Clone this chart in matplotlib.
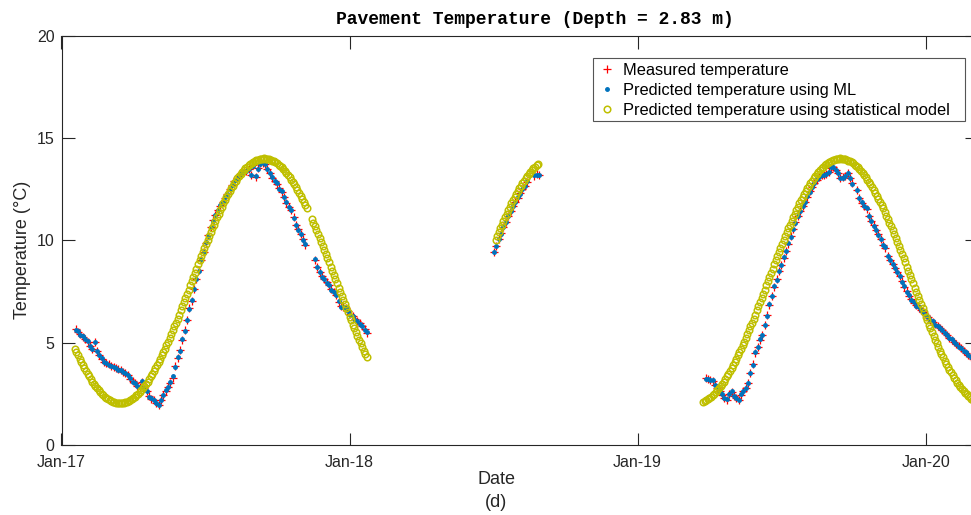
import numpy as np
import pandas as pd
import matplotlib
matplotlib.use("Agg")
import matplotlib.pyplot as plt
import matplotlib.dates as mdates
from matplotlib.lines import Line2D
from matplotlib.patches import Rectangle

plt.rcParams['font.family'] = ['Liberation Sans', 'DejaVu Sans']

nan = np.nan

# ---------------- data ----------------
# Measured temperature (3-day sampling, NaN = no record)
MEAS_STEP = 3
meas_2017_start = "2017-01-19"
meas_2017 = [
    5.66, 5.55, 5.42, 5.30, 5.18, 5.05, 4.85, 4.68, 5.05, 4.60,
    4.42, 4.22, 4.08, 4.00, 3.94, 3.87, 3.82, 3.76, 3.70, 3.65,
    3.58, 3.52, 3.42, 3.25, 3.12, 3.02, 2.90, 2.82, 3.08, 2.80,
    2.62, 2.38, 2.26, 2.20, 2.05, 1.98, 2.20, 2.45, 2.65, 2.85,
    3.05, 3.30, 3.85, 4.25, 4.65, 5.15, 5.60, 6.10, 6.70, 7.05,
    7.65, 8.10, 8.55, 9.05, 9.45, 9.90, 10.25, 10.65, 11.00, 11.25,
    11.50, 11.70, 11.90, 12.10, 12.28, 12.50, 12.72, 12.90, 13.05, 13.20,
    13.30, 13.38, 13.42, 13.50, 13.20, 13.68, 13.12, 13.55, 13.78, 13.80,
    13.75, 13.48, 13.30, 13.08, 12.92, 12.78, 12.55, 12.38, 12.15, 11.85,
    11.65, 11.48, 11.15, 10.75, 10.55, 10.30, 10.05, 9.80, nan, nan,
    nan, 9.05, 8.70, 8.45, 8.25, 8.10, 7.95, 7.80, 7.62, 7.48,
    7.35, 7.00, 6.78, 6.75, 6.72, 6.55, 6.40, 6.30, 6.15, 6.05,
    5.95, 5.80, 5.65, 5.50,
]
meas_2018_start = "2018-07-03"
meas_2018 = [
    9.42, 9.75, 10.05, 10.35, 10.65, 10.92, 11.20, 11.45, 11.68, 11.90,
    12.10, 12.30, 12.50, 12.68, 12.87, nan, nan, 13.15, 13.25, 13.18,
]
meas_2019_start = "2019-03-28"
meas_2019 = [
    3.26, 3.22, 3.20, 3.15, 2.95, 2.80, 2.65, 2.45, 2.32, 2.22,
    2.50, 2.60, 2.42, 2.30, 2.20, 2.45, 2.65, 2.78, 3.05, 3.50,
    3.95, 4.50, 4.80, 5.15, 5.40, 5.85, 6.35, 6.85, 7.30, 7.75,
    8.10, 8.50, 8.80, 9.15, 9.50, 9.85, 10.20, 10.55, 10.90, 11.20,
    11.45, 11.68, 11.90, 12.14, 12.40, 12.62, 12.82, 12.98, 13.12, 13.20,
    13.22, 13.25, 13.35, 13.55, 13.60, 13.45, 13.30, 13.05, 13.10, 13.15,
    13.30, 13.05, 12.80, nan, 12.47, 12.10, 11.85, 11.70, 11.55, 11.20,
    10.95, 10.75, 10.50, 10.30, 10.05, 9.80, 9.65, 9.25, 9.05, 8.85,
    8.65, 8.47, 8.25, 8.00, 7.75, 7.52, 7.30, 7.12, 6.95, 6.83,
    6.72, 6.60, 6.48, 6.38, 6.25, 6.12, 6.02, 5.90, 5.80, 5.72,
    5.60, 5.48, 5.38, 5.25, 5.15, 5.05, 4.92, 4.82, 4.72, 4.62,
    4.52, 4.40, 4.30, 4.20,
]

# Machine-learning prediction on the same days as the measurements
ml_2017 = [
    5.64, 5.57, 5.40, 5.31, 5.16, 5.07, 4.83, 4.70, 5.02, 4.62,
    4.40, 4.24, 4.06, 4.01, 3.93, 3.88, 3.80, 3.77, 3.69, 3.66,
    3.57, 3.53, 3.40, 3.27, 3.10, 3.04, 2.88, 2.84, 3.12, 2.78,
    2.64, 2.36, 2.28, 2.18, 2.07, 1.97, 2.22, 2.43, 2.67, 2.83,
    3.08, 3.35, 3.80, 4.28, 4.62, 5.18, 5.57, 6.12, 6.66, 7.08,
    7.62, 8.12, 8.52, 9.08, 9.42, 9.92, 10.22, 10.68, 10.97, 11.27,
    11.48, 11.72, 11.88, 12.12, 12.26, 12.52, 12.70, 12.92, 13.03, 13.22,
    13.28, 13.40, 13.40, 13.52, 13.18, 13.66, 13.15, 13.52, 13.76, 13.82,
    13.72, 13.50, 13.28, 13.10, 12.90, 12.80, 12.53, 12.40, 12.13, 11.88,
    11.62, 11.50, 11.12, 10.78, 10.52, 10.32, 10.02, 9.82, nan, nan,
    nan, 9.08, 8.68, 8.47, 8.22, 8.12, 7.93, 7.82, 7.60, 7.50,
    7.33, 7.03, 6.76, 6.77, 6.70, 6.57, 6.38, 6.32, 6.13, 6.07,
    5.93, 5.82, 5.63, 5.52,
]
ml_2018 = [
    9.45, 9.72, 10.08, 10.33, 10.68, 10.90, 11.22, 11.43, 11.70, 11.88,
    12.12, 12.28, 12.52, 12.66, 12.89, nan, nan, 13.18, 13.22, 13.20,
]
ml_2019 = [
    3.24, 3.23, 3.18, 3.16, 2.93, 2.82, 2.63, 2.47, 2.30, 2.24,
    2.48, 2.62, 2.40, 2.32, 2.18, 2.47, 2.63, 2.80, 3.02, 3.53,
    3.92, 4.53, 4.77, 5.18, 5.37, 5.88, 6.32, 6.88, 7.27, 7.78,
    8.08, 8.53, 8.78, 9.18, 9.48, 9.88, 10.18, 10.58, 10.88, 11.22,
    11.43, 11.70, 11.88, 12.16, 12.38, 12.64, 12.80, 13.00, 13.10, 13.22,
    13.20, 13.27, 13.33, 13.57, 13.58, 13.47, 13.28, 13.07, 13.08, 13.17,
    13.28, 13.07, 12.78, nan, 12.49, 12.08, 11.87, 11.68, 11.57, 11.18,
    10.97, 10.73, 10.52, 10.28, 10.07, 9.78, 9.67, 9.23, 9.07, 8.83,
    8.67, 8.45, 8.27, 7.98, 7.77, 7.50, 7.32, 7.10, 6.97, 6.81,
    6.74, 6.58, 6.50, 6.36, 6.27, 6.10, 6.04, 5.88, 5.82, 5.70,
    5.62, 5.46, 5.40, 5.23, 5.17, 5.03, 4.94, 4.80, 4.74, 4.60,
    4.54, 4.38, 4.32, 4.18,
]

# Statistical (seasonal) model prediction, 2-day sampling
STAT_STEP = 2
stat_2017a_start = "2017-01-18"
stat_2017a = [
    4.71, 4.54, 4.38, 4.21, 4.06, 3.91, 3.76, 3.62, 3.48, 3.35,
    3.22, 3.10, 2.99, 2.88, 2.78, 2.68, 2.59, 2.51, 2.44, 2.37,
    2.30, 2.25, 2.20, 2.16, 2.12, 2.09, 2.07, 2.06, 2.05,
    2.05, 2.06, 2.07, 2.09, 2.12, 2.16, 2.20, 2.25, 2.30, 2.37,
    2.44, 2.51, 2.59, 2.68, 2.78, 2.88, 2.99, 3.10, 3.22, 3.35,
    3.48, 3.62, 3.76, 3.91, 4.06, 4.21, 4.38, 4.54, 4.71, 4.88,
    5.06, 5.24, 5.42, 5.61, 5.80, 5.99, 6.18, 6.38, 6.58, 6.78,
    6.98, 7.19, 7.39, 7.59, 7.80, 8.00, 8.21, 8.42, 8.62, 8.83,
    9.03, 9.23, 9.43, 9.63, 9.83, 10.02, 10.21, 10.40, 10.59, 10.78,
    10.96, 11.14, 11.31, 11.48, 11.65, 11.81, 11.97, 12.12, 12.27, 12.41,
    12.55, 12.68, 12.81, 12.93, 13.04, 13.15, 13.26, 13.35, 13.44, 13.53,
    13.60, 13.67, 13.74, 13.79, 13.84, 13.89, 13.93, 13.96, 13.98, 13.99,
    14.00, 14.01, 14.00, 13.99, 13.97, 13.94, 13.91, 13.87, 13.82, 13.77,
    13.71, 13.64, 13.57, 13.49, 13.40, 13.30, 13.20, 13.09, 12.98, 12.87,
    12.74, 12.61, 12.48, 12.34, 12.19, 12.04, 11.89, 11.73, 11.57,
]
stat_2017b_start = "2017-11-14"
stat_2017b = [
    11.05, 10.87, 10.69, 10.50, 10.31, 10.12, 9.93, 9.73, 9.53, 9.33,
    9.13, 8.93, 8.72, 8.52, 8.32, 8.11, 7.90, 7.70, 7.49, 7.28,
    7.08, 6.88, 6.68, 6.48, 6.28, 6.09, 5.89, 5.70, 5.51, 5.33,
    5.14, 4.97, 4.79, 4.62, 4.45, 4.29,
]
stat_2018_start = "2018-07-05"
stat_2018 = [
    10.02, 10.21, 10.40, 10.59, 10.78, 10.96, 11.14, 11.31, 11.48, 11.65,
    11.81, 11.97, 12.12, 12.27, 12.41, 12.55, 12.68, 12.81, 12.93, 13.04,
    13.15, 13.26, 13.35, 13.44, 13.53, 13.60, 13.67, 13.74,
]
stat_2019_start = "2019-03-25"
stat_2019 = [
    2.12, 2.16, 2.20, 2.25, 2.30, 2.37, 2.44, 2.51, 2.59, 2.68,
    2.78, 2.88, 2.99, 3.10, 3.22, 3.35, 3.48, 3.62, 3.76, 3.91,
    4.06, 4.21, 4.38, 4.54, 4.71, 4.88, 5.06, 5.24, 5.42, 5.61,
    5.80, 5.99, 6.18, 6.38, 6.58, 6.78, 6.98, 7.19, 7.39, 7.59,
    7.80, 8.00, 8.21, 8.42, 8.62, 8.83, 9.03, 9.23, 9.43, 9.63,
    9.83, 10.02, 10.21, 10.40, 10.59, 10.78, 10.96, 11.14, 11.31, 11.48,
    11.65, 11.81, 11.97, 12.12, 12.27, 12.41, 12.55, 12.68, 12.81, 12.93,
    13.04, 13.15, 13.26, 13.35, 13.44, 13.53, 13.60, 13.67, 13.74, 13.79,
    13.84, 13.89, 13.93, 13.96, 13.98, 13.99, 14.00, 14.01, 14.00, 13.99,
    13.97, 13.94, 13.91, 13.87, 13.82, 13.77, 13.71, 13.64, 13.57, 13.49,
    13.40, 13.30, 13.20, 13.09, 12.98, 12.87, 12.74, 12.61, 12.48, 12.34,
    12.19, 12.04, 11.89, 11.73, 11.57, 11.40, 11.22, 11.05, 10.87, 10.69,
    10.50, 10.31, 10.12, 9.93, 9.73, 9.53, 9.33, 9.13, 8.93, 8.72,
    8.52, 8.32, 8.11, 7.90, 7.70, 7.49, 7.28, 7.08, 6.88, 6.68,
    6.48, 6.28, 6.09, 5.89, 5.70, 5.51, 5.33, 5.14, 4.97, 4.79,
    4.62, 4.45, 4.29, 4.13, 3.98, 3.83, 3.68, 3.55, 3.41, 3.28,
    3.16, 3.05, 2.94, 2.83, 2.73, 2.64, 2.55, 2.47, 2.40, 2.33,
    2.27, 2.22, 2.18, 2.14,
]

x_ticks = ["2017-01-01", "2018-01-01", "2019-01-01", "2020-01-01"]
x_range = ("2017-01-01", "2020-03-06")
y_ticks = [0, 5, 10, 15, 20]

title = "Pavement Temperature (Depth = 2.83 m)"
labels = ["Measured temperature",
          "Predicted temperature using ML",
          "Predicted temperature using statistical model"]

C_MEAS = "#FF0000"
C_ML = "#0072BD"
C_STAT = "#BFBF00"
C_AX = "#262626"


def days(start, n, step):
    return pd.date_range(start, periods=n, freq=f"{step}D")


# ---------------- figure ----------------
W, H = 971, 515
fig = plt.figure(figsize=(W / 100, H / 100), dpi=100)
ax_l, ax_r, ax_t, ax_b = 61.5, 977.0, 36.0, 445.0
ax = fig.add_axes([ax_l / W, 1 - ax_b / H, (ax_r - ax_l) / W, (ax_b - ax_t) / H])

MEAS_STYLE = dict(linestyle="none", marker="+", markersize=5.5, markeredgewidth=0.9, color=C_MEAS)
ML_STYLE = dict(linestyle="none", marker=".", markersize=5, color=C_ML)
STAT_STYLE = dict(linestyle="none", marker="o", markersize=4.7, markerfacecolor="none",
                  markeredgewidth=1.1, color=C_STAT)

meas_sets = [(meas_2017_start, meas_2017, ml_2017),
             (meas_2018_start, meas_2018, ml_2018),
             (meas_2019_start, meas_2019, ml_2019)]
for start, mv, mlv in meas_sets:
    ax.plot(days(start, len(mv), MEAS_STEP), mv, zorder=2, **MEAS_STYLE)
    ax.plot(days(start, len(mlv), MEAS_STEP), mlv, zorder=3, **ML_STYLE)

stat_sets = [(stat_2017a_start, stat_2017a), (stat_2017b_start, stat_2017b),
             (stat_2018_start, stat_2018), (stat_2019_start, stat_2019)]
for start, sv in stat_sets:
    ax.plot(days(start, len(sv), STAT_STEP), sv, zorder=4, **STAT_STYLE)

ax.set_xlim(pd.Timestamp(x_range[0]), pd.Timestamp(x_range[1]))
ax.set_ylim(y_ticks[0], y_ticks[-1])
ax.set_xticks([pd.Timestamp(t) for t in x_ticks])
ax.xaxis.set_major_formatter(mdates.DateFormatter("%b-%y"))
ax.set_yticks(y_ticks)

for sp in ax.spines.values():
    sp.set_color(C_AX)
    sp.set_linewidth(0.8)
ax.tick_params(axis="both", which="both", direction="in", length=9, width=0.8,
               color=C_AX, labelcolor=C_AX, labelsize=11.5,
               top=True, right=True)
ax.tick_params(axis="x", pad=7)
ax.tick_params(axis="y", pad=5)

ax.set_xlabel("Date\n(d)", fontsize=13, color=C_AX, linespacing=1.45)
ax.xaxis.set_label_coords((496 - ax_l) / (ax_r - ax_l), -(471 - ax_b) / (ax_b - ax_t))
ax.set_ylabel("Temperature (\u00b0C)", fontsize=13, color=C_AX)
ax.yaxis.set_label_coords(-(ax_l - 31) / (ax_r - ax_l), (ax_b - 250) / (ax_b - ax_t))

ax.set_title(title, fontsize=13, fontweight="bold", family=["Liberation Mono", "DejaVu Sans Mono"],
             x=(535 - ax_l) / (ax_r - ax_l), pad=9, color="black")

# legend box drawn as its own frame, entries placed inside it
box_l, box_t, box_r, box_b = 593, 58, 965, 121
frame = Rectangle((box_l / W, 1 - box_b / H), (box_r - box_l) / W, (box_b - box_t) / H,
                  transform=fig.transFigure, facecolor="white", edgecolor="#555555",
                  linewidth=0.8, zorder=4.5, clip_on=False)
ax.add_patch(frame)

handles = [Line2D([], [], **MEAS_STYLE), Line2D([], [], **ML_STYLE), Line2D([], [], **STAT_STYLE)]
leg = ax.legend(handles, labels, loc="upper left",
                bbox_to_anchor=(600 / W, 1 - 63 / H), bbox_transform=fig.transFigure,
                borderaxespad=0, borderpad=0, fontsize=11.8, frameon=False,
                labelspacing=0.3, handlelength=0.8, handletextpad=0.6)
leg.set_zorder(5)

fig.savefig("out.png", dpi=100)
